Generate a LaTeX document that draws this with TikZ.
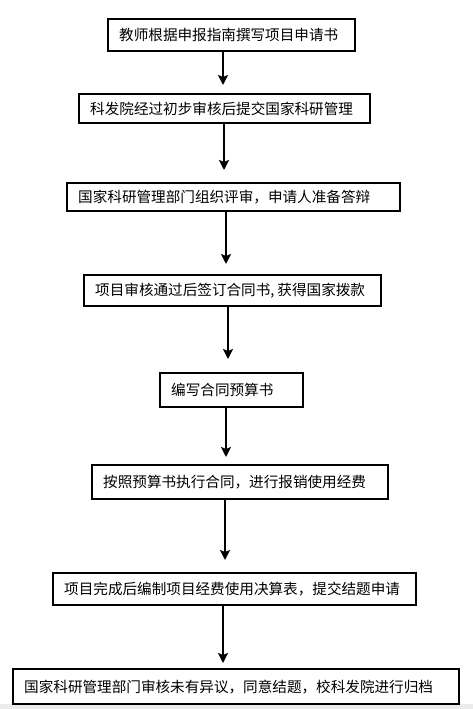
\documentclass[tikz,border=0pt]{standalone}
\usepackage{fontspec}
\setmainfont{Noto Sans CJK SC}
\usetikzlibrary{arrows.meta}
\begin{document}
\begin{tikzpicture}[x=1pt,y=-1pt,
  box/.style={draw=black, line width=2.4pt, inner xsep=11pt, inner ysep=0pt,
    align=left, font=\fontsize{14.6}{16}\selectfont, text=black, anchor=north west},
  arr/.style={line width=1.8pt, -{Stealth[length=10pt,width=10pt,inset=2pt]}}]
\useasboundingbox (0,0) rectangle (473,709);
\fill[white] (0,0) rectangle (473,709);
\fill[black!8] (0,704) rectangle (473,709);
\newcommand{\flowbox}[6]{%
  \node[box, minimum width=#3-#2, minimum height=#5-#4, text width=#3-#2-22] (#1) at (#2,#4) {#6};}
\flowbox{b1}{107}{354}{18}{50}{教师根据申报指南撰写项目申请书}
\flowbox{b2}{78}{369}{93}{122}{科发院经过初步审核后提交国家科研管理}
\flowbox{b3}{66}{399}{182}{210}{国家科研管理部门组织评审，申请人准备答辩}
\flowbox{b4}{83}{380}{274}{305}{项目审核通过后签订合同书,\hspace{3pt}获得国家拨款}
\flowbox{b5}{159}{302}{372}{406}{编写合同预算书}
\flowbox{b6}{91}{387}{464}{498}{按照预算书执行合同，进行报销使用经费}
\flowbox{b7}{52}{415}{572}{604}{项目完成后编制项目经费使用决算表，提交结题申请}
\flowbox{b8}{12}{458}{668}{703}{国家科研管理部门审核未有异议，同意结题，校科发院进行归档}
\coordinate (t1) at (223,85);
\coordinate (t2) at (224,170);
\coordinate (t3) at (226,264);
\coordinate (t4) at (228,359);
\coordinate (t5) at (226,457);
\coordinate (t6) at (225,560);
\coordinate (t7) at (223,663);
\draw[arr] (b1.south -| t1) -- (t1);
\draw[arr] (b2.south -| t2) -- (t2);
\draw[arr] (b3.south -| t3) -- (t3);
\draw[arr] (b4.south -| t4) -- (t4);
\draw[arr] (b5.south -| t5) -- (t5);
\draw[arr] (b6.south -| t6) -- (t6);
\draw[arr] (b7.south -| t7) -- (t7);
\end{tikzpicture}
\end{document}
